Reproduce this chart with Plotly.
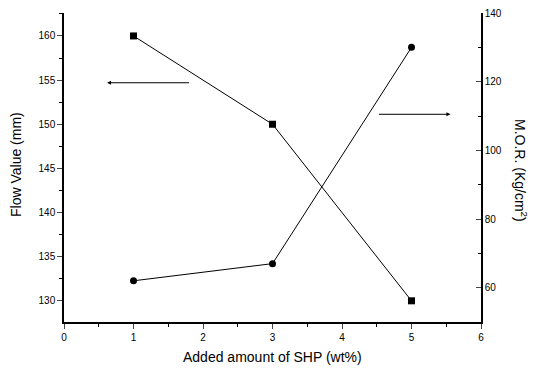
import plotly.graph_objects as go

shp = [1, 3, 5]
flow_value = [160, 150, 130]
mor = [62, 67, 130]

FONT = "Liberation Sans, Arial, sans-serif"

fig = go.Figure()
fig.add_trace(go.Scatter(x=shp, y=flow_value, mode="lines+markers",
                         line=dict(color="black", width=1),
                         marker=dict(symbol="square", size=7, color="black"),
                         xaxis="x", yaxis="y", showlegend=False))
fig.add_trace(go.Scatter(x=shp, y=mor, mode="lines+markers",
                         line=dict(color="black", width=1),
                         marker=dict(symbol="circle", size=7, color="black"),
                         xaxis="x", yaxis="y2", showlegend=False))

W, H = 533, 372
L, R, T, B = 64, 52, 13, 50
PW, PH = W - L - R, H - T - B


def px(x):
    return (x - L) / PW


def py(y):
    return 1 - (y - T) / PH


fig.update_layout(
    width=W, height=H,
    margin=dict(l=L, r=R, t=T, b=B),
    paper_bgcolor="white", plot_bgcolor="white",
    font=dict(family=FONT, size=10, color="black"),
    xaxis=dict(range=[0, 6], tickmode="linear", dtick=1, ticks="outside", ticklen=5,
               tickwidth=1, showline=True, linecolor="black", linewidth=1.5,
               showgrid=False, zeroline=False, automargin=False,
               minor=dict(dtick=0.5, ticks="outside", ticklen=3, tickcolor="black")),
    xaxis2=dict(range=[0, 6], overlaying="x", side="top", tickmode="linear", dtick=1,
                ticks="inside", ticklen=5, showticklabels=False, showline=True,
                linecolor="black", linewidth=1.5, showgrid=False, zeroline=False,
                automargin=False,
                minor=dict(dtick=0.5, ticks="inside", ticklen=3, tickcolor="black")),
    yaxis=dict(range=[127.6, 162.6], tickmode="linear", tick0=130, dtick=5,
               ticks="outside", ticklen=5, showline=True, linecolor="black", linewidth=1.5,
               showgrid=False, zeroline=False, automargin=False,
               minor=dict(dtick=2.5, ticks="outside", ticklen=3, tickcolor="black")),
    yaxis2=dict(range=[50, 140], overlaying="y", side="right", tickmode="linear", tick0=60,
                dtick=20, ticks="inside", ticklen=5, showline=True, linecolor="black",
                linewidth=1.5, showgrid=False, zeroline=False, automargin=False,
                minor=dict(dtick=10, ticks="inside", ticklen=3, tickcolor="black")),
    annotations=[
        dict(x=0.62, y=154.7, ax=1.82, ay=154.7, xref="x", yref="y", axref="x", ayref="y",
             showarrow=True, arrowhead=2, arrowsize=0.8, arrowwidth=1, arrowcolor="black", text=""),
        dict(x=5.56, y=110.5, ax=4.51, ay=110.5, xref="x", yref="y2", axref="x", ayref="y2",
             showarrow=True, arrowhead=2, arrowsize=0.8, arrowwidth=1, arrowcolor="black", text=""),
        dict(x=px(521), y=py(170), xref="paper", yref="paper",
             xanchor="center", yanchor="middle",
             text="M.O.R. (Kg/cm<sup>2</sup>)",
             textangle=90, showarrow=False, font=dict(size=14)),
        dict(x=px(16), y=py(165), xref="paper", yref="paper",
             xanchor="center", yanchor="middle",
             text="Flow Value (mm)",
             textangle=-90, showarrow=False, font=dict(size=14)),
        dict(x=px(272), y=py(357), xref="paper", yref="paper",
             xanchor="center", yanchor="middle",
             text="Added amount of SHP (wt%)",
             showarrow=False, font=dict(size=14)),
    ],
)

fig.write_html("out.html")
